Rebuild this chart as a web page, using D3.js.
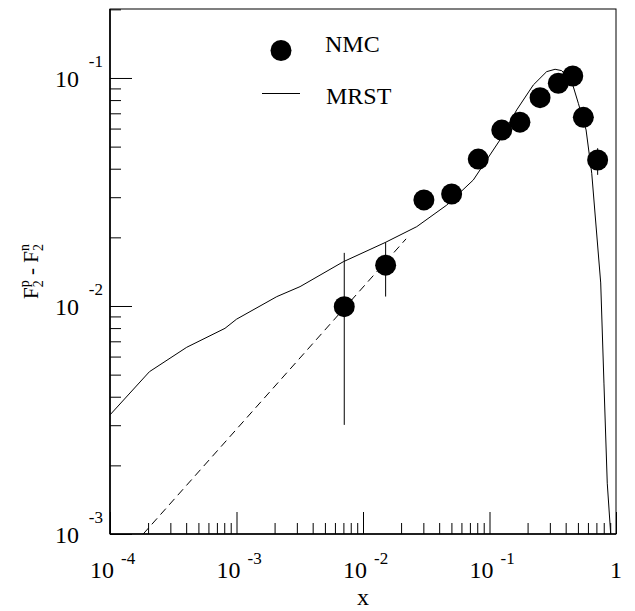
<!DOCTYPE html>
<html>
<head>
<meta charset="utf-8">
<script src="https://cdn.jsdelivr.net/npm/d3@7"></script>
<style>
  body { margin: 0; background: #fff; }
  text { font-family: "Liberation Serif", "Times New Roman", Times, serif; }
</style>
</head>
<body>
<svg id="chart"></svg>
<script>
// NMC data points (x, F2p - F2n, error bar ends)
const nmcX  = [0.00711, 0.0151, 0.0303, 0.0502, 0.0815, 0.125, 0.174, 0.251, 0.350, 0.455, 0.552, 0.716];
const nmcY  = [0.00993, 0.0151, 0.0292, 0.0310, 0.0441, 0.0591, 0.0640, 0.0820, 0.0948, 0.102, 0.0672, 0.0437];
const nmcHi = [0.0171, 0.0190, 0.0310, 0.0325, 0.0460, 0.0610, 0.0660, 0.0840, 0.0970, 0.105, 0.0700, 0.0492];
const nmcLo = [0.00301, 0.0110, 0.0275, 0.0295, 0.0420, 0.0570, 0.0620, 0.0800, 0.0920, 0.099, 0.0640, 0.0376];

// MRST curve
const mrstX = [0.0001, 0.000205, 0.000404, 0.000811, 0.001, 0.00208, 0.00318, 0.00698, 0.01493, 0.0266,
               0.0459, 0.0745, 0.121, 0.164, 0.222, 0.283, 0.330, 0.372, 0.447, 0.504,
               0.580, 0.643, 0.757, 0.803, 0.853, 0.908];
const mrstY = [0.00333, 0.00515, 0.00659, 0.00798, 0.00875, 0.01099, 0.01216, 0.01563, 0.01897, 0.02228,
               0.0277, 0.0357, 0.0535, 0.0724, 0.0932, 0.1066, 0.1092, 0.1077, 0.0964, 0.0774,
               0.0592, 0.0382, 0.01262, 0.00459, 0.00167, 0.001];

// dashed low-x extrapolation
const fitX = [0.000183, 0.0219];
const fitY = [0.001, 0.0197];

const xTickExps = [-4, -3, -2, -1, 0];
const yTickExps = [-3, -2, -1];

const FONT = '"Liberation Serif", "Times New Roman", Times, serif';

const settings = {
  width: 635,
  height: 611,
  margin: { top: 9, left: 110, right: 19, bottom: 77 },
  majorTick: 22,
  minorTick: 11,
  markerR: 10.5
};

const plotW = settings.width - settings.margin.left - settings.margin.right;
const plotH = settings.height - settings.margin.top - settings.margin.bottom;

const xScale = d3.scaleLog().domain([1e-4, 1]).range([0, plotW]);
const yScale = d3.scaleLog().domain([1e-3, 0.2007]).range([plotH, 0]);

const svg = d3.select('#chart')
  .attr('width', settings.width)
  .attr('height', settings.height)
  .attr('font-family', FONT);

const g = svg.append('g')
  .attr('transform', 'translate(' + [settings.margin.left, settings.margin.top] + ')');

g.append('clipPath').attr('id', 'clip')
  .append('rect').attr('width', plotW).attr('height', plotH);

// minor / major tick values
function minorValues(lo, hi) {
  let v = [];
  for (let e = lo; e < hi; e++) {
    for (let m = 2; m <= 9; m++) v.push(m * Math.pow(10, e));
  }
  return v;
}
const xMinor = minorValues(-4, 0);
const yMinor = minorValues(-3, -1).concat([0.2]);

function styleTicks(sel) {
  sel.select('.domain').remove();
  sel.selectAll('.tick line').attr('stroke', '#000').attr('stroke-width', 1);
}

g.append('g').attr('transform', 'translate(0,' + plotH + ')')
  .call(d3.axisBottom(xScale).tickValues(xMinor).tickSize(-settings.minorTick).tickFormat(''))
  .call(styleTicks);
g.append('g').attr('transform', 'translate(0,' + plotH + ')')
  .call(d3.axisBottom(xScale).tickValues(xTickExps.map(e => Math.pow(10, e))).tickSize(-settings.majorTick).tickFormat(''))
  .call(styleTicks);
g.append('g')
  .call(d3.axisLeft(yScale).tickValues(yMinor).tickSize(-settings.minorTick).tickFormat(''))
  .call(styleTicks);
g.append('g')
  .call(d3.axisLeft(yScale).tickValues(yTickExps.map(e => Math.pow(10, e))).tickSize(-settings.majorTick).tickFormat(''))
  .call(styleTicks);

// frame
g.append('rect').attr('width', plotW).attr('height', plotH)
  .attr('fill', 'none').attr('stroke', '#000').attr('stroke-width', 1);
g.append('line').attr('x1', 0).attr('x2', 0).attr('y1', 0).attr('y2', plotH)
  .attr('stroke', '#000').attr('stroke-width', 1.6);
g.append('line').attr('x1', 0).attr('x2', plotW).attr('y1', plotH).attr('y2', plotH)
  .attr('stroke', '#000').attr('stroke-width', 1.6);

// x tick labels
xTickExps.forEach(e => {
  let px = xScale(Math.pow(10, e));
  if (e === 0) {
    g.append('text').attr('x', px).attr('y', plotH + 44)
      .attr('text-anchor', 'middle').attr('font-size', 24).text('1');
    return;
  }
  g.append('text').attr('x', px + 4).attr('y', plotH + 44)
    .attr('text-anchor', 'end').attr('font-size', 24).text('10');
  g.append('text').attr('x', px + 11).attr('y', plotH + 30)
    .attr('text-anchor', 'start').attr('font-size', 17).text(String(e));
});

// y tick labels
yTickExps.forEach(e => {
  let py = yScale(Math.pow(10, e));
  g.append('text').attr('x', -31).attr('y', py + 9)
    .attr('text-anchor', 'end').attr('font-size', 24).text('10');
  g.append('text').attr('x', -7).attr('y', py - 11)
    .attr('text-anchor', 'end').attr('font-size', 17).text(String(e));
});

// axis titles
g.append('text').attr('x', plotW / 2).attr('y', plotH + 71)
  .attr('text-anchor', 'middle').attr('font-size', 24).text('x');

let yt = svg.append('text')
  .attr('transform', 'translate(38,' + (settings.margin.top + plotH / 2) + ') rotate(-90)')
  .attr('text-anchor', 'middle').attr('font-size', 21);
yt.append('tspan').text('F');
yt.append('tspan').attr('font-size', 14).attr('dy', -9).text('p');
yt.append('tspan').attr('font-size', 14).attr('dx', -7).attr('dy', 14).text('2');
yt.append('tspan').attr('dy', -5).text(' - F');
yt.append('tspan').attr('font-size', 14).attr('dy', -9).text('n');
yt.append('tspan').attr('font-size', 14).attr('dx', -7).attr('dy', 14).text('2');

// curves
const plot = g.append('g').attr('clip-path', 'url(#clip)');

const line = d3.line()
  .x(d => xScale(d[0]))
  .y(d => yScale(d[1]));

plot.append('path')
  .datum(d3.zip(mrstX, mrstY))
  .attr('d', line)
  .attr('fill', 'none').attr('stroke', '#000').attr('stroke-width', 1);

plot.append('path')
  .datum(d3.zip(fitX, fitY))
  .attr('d', line)
  .attr('fill', 'none').attr('stroke', '#000').attr('stroke-width', 1)
  .attr('stroke-dasharray', '8,5');

// NMC points
const pts = d3.range(nmcX.length);
plot.selectAll('line.err')
  .data(pts)
  .enter().append('line')
  .attr('class', 'err')
  .attr('x1', i => xScale(nmcX[i])).attr('x2', i => xScale(nmcX[i]))
  .attr('y1', i => yScale(nmcHi[i])).attr('y2', i => yScale(nmcLo[i]))
  .attr('stroke', '#000').attr('stroke-width', 1);

plot.selectAll('circle.nmc')
  .data(pts)
  .enter().append('circle')
  .attr('class', 'nmc')
  .attr('cx', i => xScale(nmcX[i]))
  .attr('cy', i => yScale(nmcY[i]))
  .attr('r', settings.markerR)
  .attr('fill', '#000');

// legend
const leg = svg.append('g');
leg.append('circle').attr('cx', 281).attr('cy', 50.5).attr('r', settings.markerR).attr('fill', '#000');
leg.append('text').attr('x', 325).attr('y', 52).attr('font-size', 24).text('NMC');
leg.append('line').attr('x1', 262).attr('x2', 300).attr('y1', 93.5).attr('y2', 93.5)
  .attr('stroke', '#000').attr('stroke-width', 1);
leg.append('text').attr('x', 326).attr('y', 104).attr('font-size', 24).text('MRST');
</script>
</body>
</html>
